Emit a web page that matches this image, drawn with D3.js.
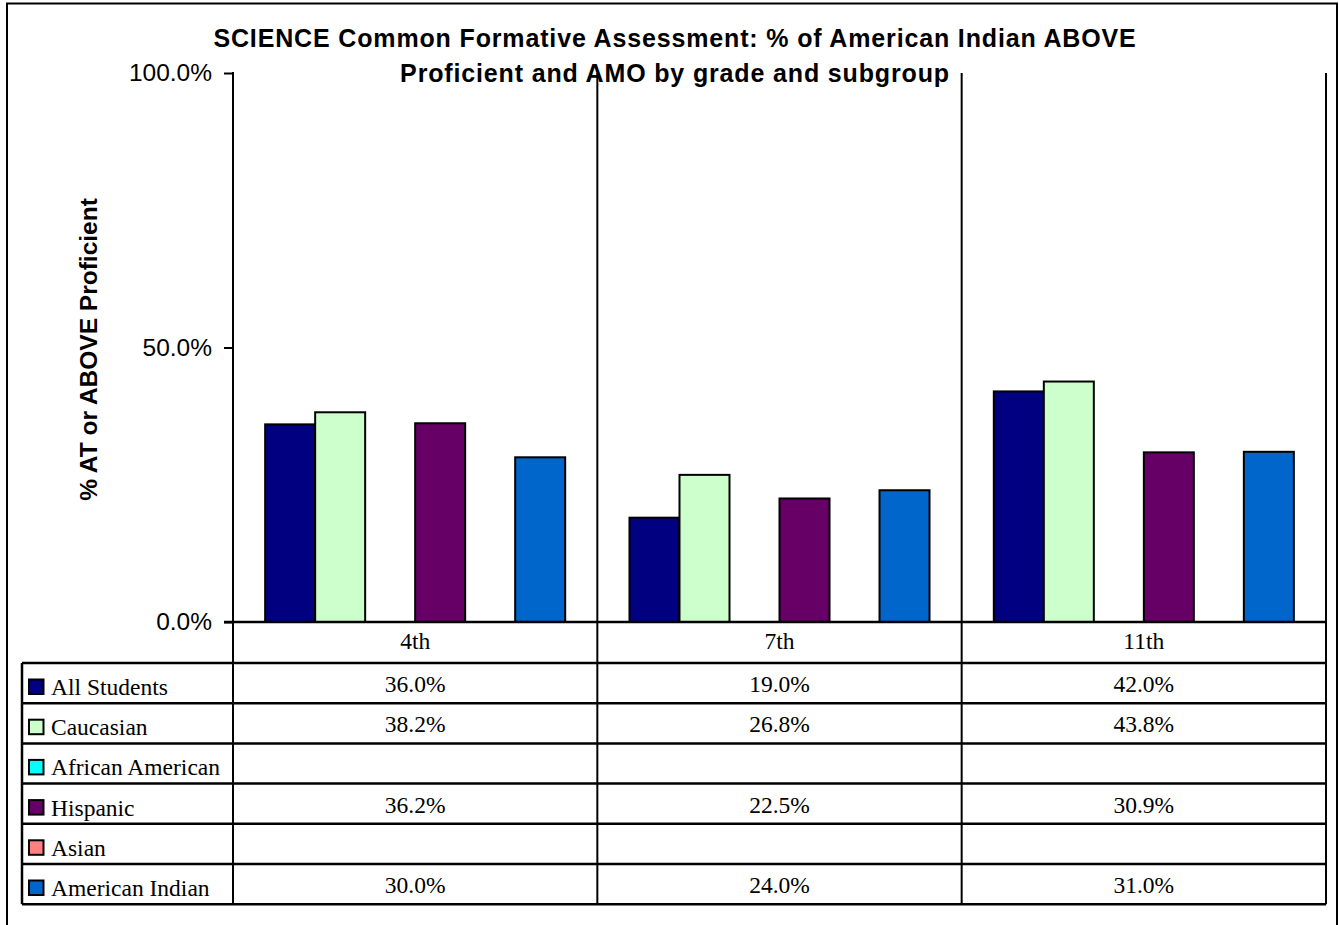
<!DOCTYPE html>
<html>
<head>
<meta charset="utf-8">
<script src="https://cdn.jsdelivr.net/npm/d3@7"></script>
<style>
  body { margin: 0; background: #fff; }
  svg { display: block; }
</style>
</head>
<body>
<div id="chart"></div>
<script>
// chart data
const grades = ["4th", "7th", "11th"];
const subgroups = ["All Students", "Caucasian", "African American", "Hispanic", "Asian", "American Indian"];
const subgroupColors = ["#000080", "#CCFFCC", "#00FFFF", "#660066", "#FF8080", "#0066CC"];
// values per subgroup, one per grade (null = no data)
const allStudents = [36.0, 19.0, 42.0];
const caucasian = [38.2, 26.8, 43.8];
const africanAmerican = [null, null, null];
const hispanic = [36.2, 22.5, 30.9];
const asian = [null, null, null];
const americanIndian = [30.0, 24.0, 31.0];
const yTicks = [0, 50, 100];
const titleLines = ["SCIENCE Common Formative Assessment: % of American Indian ABOVE",
                    "Proficient and AMO by grade and subgroup"];
const yTitle = "% AT or ABOVE Proficient";

const seriesValues = [allStudents, caucasian, africanAmerican, hispanic, asian, americanIndian];

const W = 1339, H = 925;
const plot = {left: 233, right: 1326, top: 73, bottom: 622};
const headerH = 41, rowH = 40.2;
const tableLeft = 22;
const sans = "Arial, 'Liberation Sans', sans-serif";
const serif = "'Times New Roman', 'Liberation Serif', serif";

const svg = d3.select("#chart").append("svg")
    .attr("width", W)
    .attr("height", H);

// outer frame (bottom edge falls off the page)
svg.append("path")
    .attr("d", `M7,${H + 5} V3.5 H1337 V${H + 5}`)
    .attr("fill", "none")
    .attr("stroke", "#000")
    .attr("stroke-width", 2);

const y = d3.scaleLinear().domain([0, 100]).range([plot.bottom, plot.top]);
const x0 = d3.scaleBand().domain(grades).range([plot.left, plot.right]);
const x1 = d3.scaleBand().domain(subgroups).range([0, x0.bandwidth()])
    .paddingInner(0).paddingOuter(0.643);

const tableTop = plot.bottom + headerH;
const tableBottom = tableTop + rowH * subgroups.length;

// bars
const barData = [];
seriesValues.forEach((vals, si) => {
    vals.forEach((v, gi) => {
        if (v !== null) barData.push({grade: grades[gi], sub: subgroups[si], color: subgroupColors[si], value: v});
    });
});

svg.append("g").selectAll("rect")
    .data(barData)
    .join("rect")
    .attr("x", d => x0(d.grade) + x1(d.sub))
    .attr("y", d => y(d.value))
    .attr("width", x1.bandwidth())
    .attr("height", d => y(0) - y(d.value))
    .attr("fill", d => d.color)
    .attr("stroke", "#000")
    .attr("stroke-width", 2);

// category divider lines through plot and table
const dividers = grades.map(g => x0(g) + x0.bandwidth());
svg.append("g").selectAll("line")
    .data(dividers)
    .join("line")
    .attr("x1", d => d).attr("x2", d => d)
    .attr("y1", plot.top).attr("y2", tableBottom)
    .attr("stroke", "#000")
    .attr("stroke-width", 2);

// y axis
const yAxis = svg.append("g")
    .attr("transform", `translate(${plot.left},0)`)
    .call(d3.axisLeft(y).tickValues(yTicks).tickSize(9).tickPadding(12)
        .tickFormat(d => d3.format(".1f")(d) + "%"));
yAxis.select(".domain").remove();
yAxis.selectAll(".tick line").attr("stroke-width", 2);
yAxis.selectAll(".tick text")
    .attr("font-family", sans)
    .attr("font-size", 24.5)
    .attr("fill", "#000");
svg.append("line")
    .attr("x1", plot.left).attr("x2", plot.left)
    .attr("y1", plot.top - 1).attr("y2", tableBottom)
    .attr("stroke", "#000").attr("stroke-width", 2);

// baseline
svg.append("line")
    .attr("x1", plot.left - 9).attr("x2", plot.right)
    .attr("y1", plot.bottom).attr("y2", plot.bottom)
    .attr("stroke", "#000").attr("stroke-width", 2.5);

// category header labels
svg.append("g").selectAll("text")
    .data(grades)
    .join("text")
    .attr("x", d => x0(d) + x0.bandwidth() / 2)
    .attr("y", plot.bottom + 27)
    .attr("text-anchor", "middle")
    .attr("font-family", serif)
    .attr("font-size", 23.5)
    .text(d => d);

// data table grid
const rowLines = d3.range(subgroups.length + 1).map(i => tableTop + i * rowH);
svg.append("g").selectAll("line")
    .data(rowLines)
    .join("line")
    .attr("x1", tableLeft).attr("x2", plot.right)
    .attr("y1", d => d).attr("y2", d => d)
    .attr("stroke", "#000").attr("stroke-width", 2.5);
svg.append("line")
    .attr("x1", tableLeft).attr("x2", tableLeft)
    .attr("y1", tableTop).attr("y2", tableBottom)
    .attr("stroke", "#000").attr("stroke-width", 2.5);

// legend keys and row labels
const rows = svg.append("g").selectAll("g")
    .data(subgroups)
    .join("g")
    .attr("transform", (d, i) => `translate(0,${tableTop + i * rowH})`);
rows.append("rect")
    .attr("x", 29).attr("y", 16.5)
    .attr("width", 14.5).attr("height", 14.5)
    .attr("fill", (d, i) => subgroupColors[i])
    .attr("stroke", "#000").attr("stroke-width", 2);
rows.append("text")
    .attr("x", 51).attr("y", 32)
    .attr("font-family", serif)
    .attr("font-size", 23.5)
    .text(d => d);

// table values
const cellData = [];
seriesValues.forEach((vals, si) => {
    vals.forEach((v, gi) => {
        if (v !== null) cellData.push({row: si, grade: grades[gi], value: v});
    });
});
svg.append("g").selectAll("text")
    .data(cellData)
    .join("text")
    .attr("x", d => x0(d.grade) + x0.bandwidth() / 2)
    .attr("y", d => tableTop + d.row * rowH + 29)
    .attr("text-anchor", "middle")
    .attr("font-family", serif)
    .attr("font-size", 23.5)
    .text(d => d3.format(".1f")(d.value) + "%");

// title
svg.append("text")
    .attr("font-family", sans)
    .attr("font-size", 25)
    .attr("font-weight", "bold")
    .attr("letter-spacing", 0.85)
    .attr("text-anchor", "middle")
    .selectAll("tspan")
    .data(titleLines)
    .join("tspan")
    .attr("x", 675)
    .attr("y", (d, i) => 47 + i * 35)
    .text(d => d);

// y axis title
svg.append("text")
    .attr("transform", `translate(97,${(plot.top + plot.bottom) / 2 + 2}) rotate(-90)`)
    .attr("text-anchor", "middle")
    .attr("font-family", sans)
    .attr("font-size", 24.5)
    .attr("font-weight", "bold")
    .text(yTitle);
</script>
</body>
</html>
